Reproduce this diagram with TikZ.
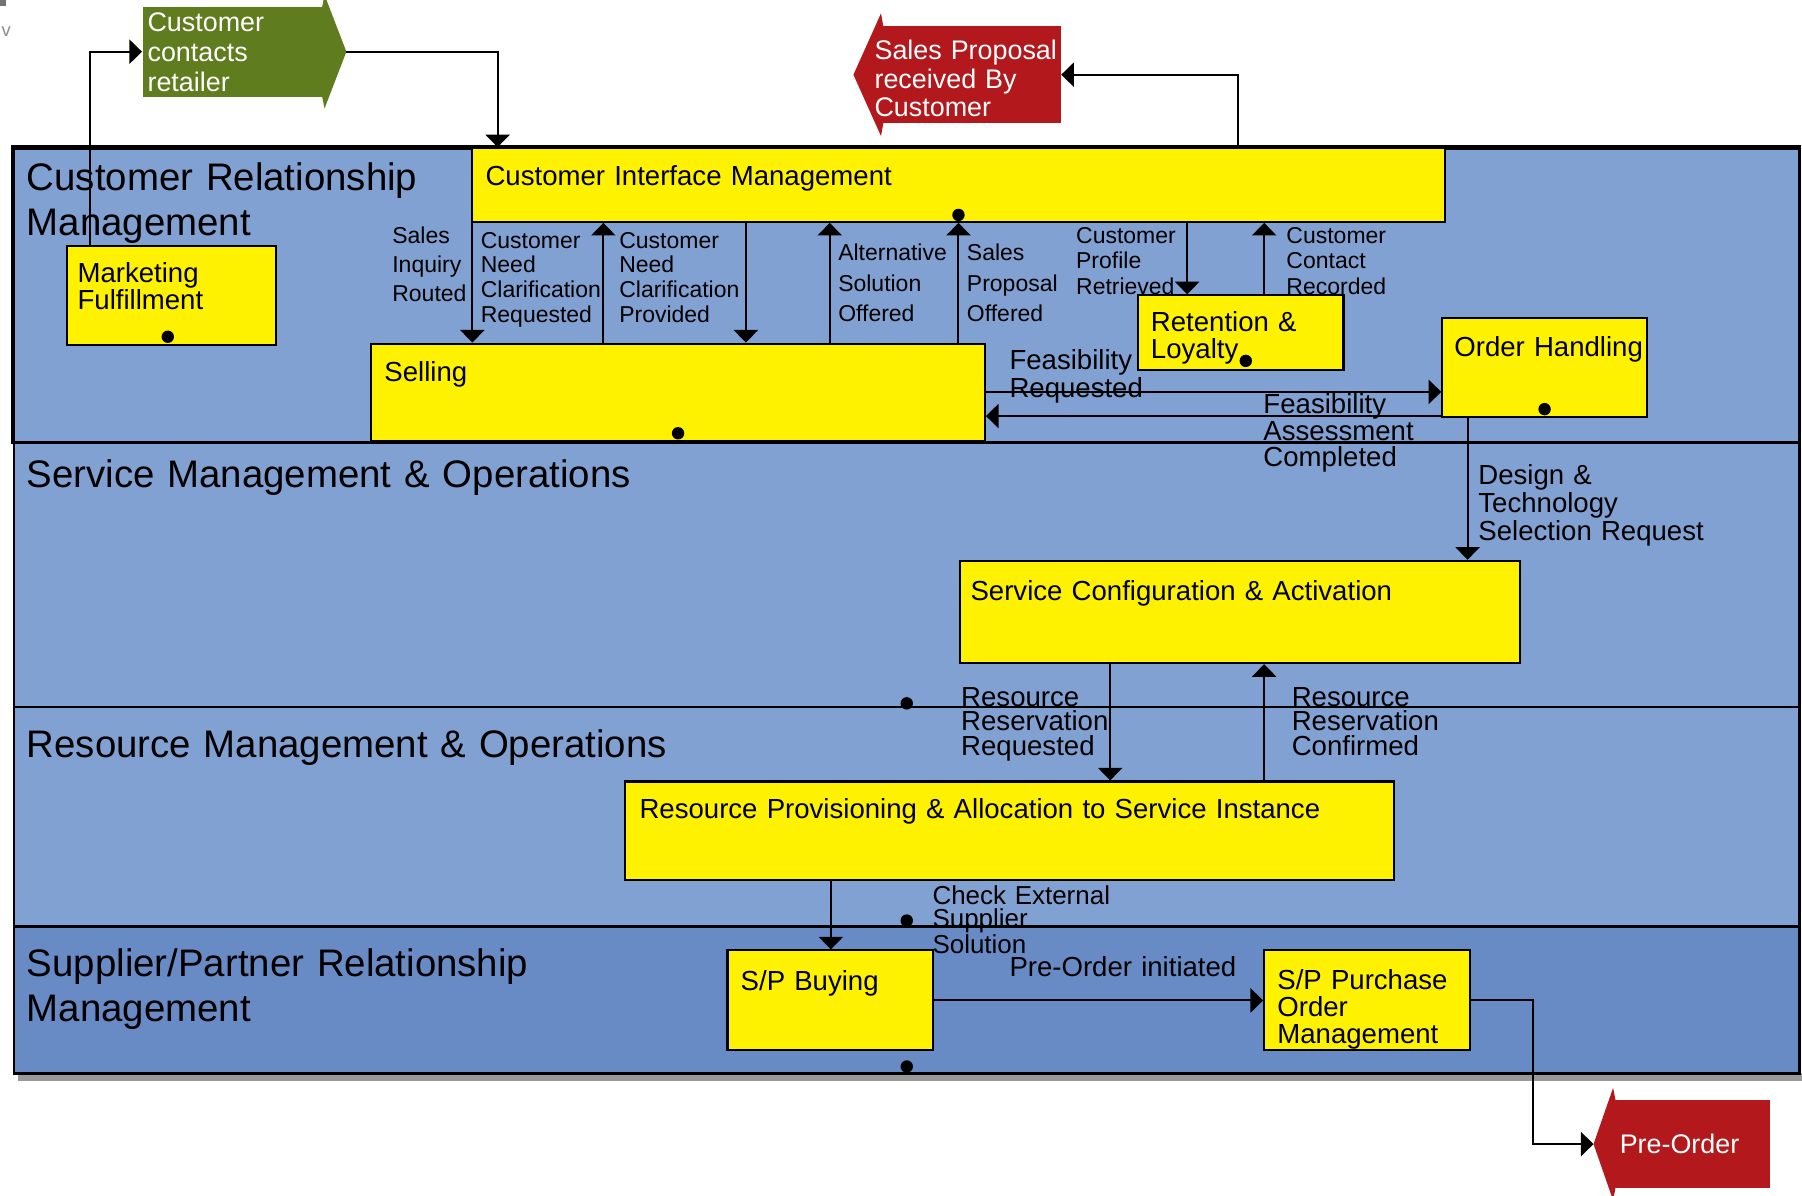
\documentclass[tikz,border=0pt]{standalone}
\usepackage{fontspec}
\setmainfont{Liberation Sans}
\usetikzlibrary{arrows.meta,fit}

\definecolor{lanelt}{RGB}{129,161,210}
\definecolor{lanedk}{RGB}{104,139,198}
\definecolor{evgreen}{RGB}{95,124,30}
\definecolor{evred}{RGB}{178,24,28}

\tikzset{
  lane/.style={draw=black, line width=1.1pt, fill=lanelt, inner sep=0pt},
  procbox/.style={draw=black, line width=0.9pt, fill=yellow, inner sep=0pt},
  evbody/.style={inner sep=0pt},
  txt/.style={anchor=base west, align=left, inner sep=0pt, text width=#1},
  lanetxt/.style={txt=10cm, font=\fontsize{16.7}{19.5}\selectfont},
  boxtxt/.style={txt=14cm, font=\fontsize{12}{11.8}\selectfont},
  evtxt/.style={txt=4cm, text=white, font=\fontsize{11.7}{#1}\selectfont},
  sml/.style={txt=3cm, font=\fontsize{10}{#1}\selectfont},
  med/.style={txt=5cm, font=\fontsize{12}{#1}\selectfont},
  flow/.style={-{Triangle[width=10.5pt,length=5.5pt]}, line width=0.85pt}
}

\begin{document}
\begin{tikzpicture}[x=0.5pt, y=-0.5pt]
  \useasboundingbox (0,0) rectangle (1568,1040);

  % lanes
  \fill[black!40] (16,934) rectangle (1568,941);
  \node[lane, fit={(12,129)(1566,385)}] (crm) {};
  \node[lane, fit={(12,385)(1566,615)}] (smo) {};
  \node[lane, fit={(12,615)(1566,806)}] (rmo) {};
  \node[lane, fill=lanedk, fit={(12,806)(1566,934)}] (sprm) {};
  \draw[line width=1.6pt] (crm.south west) |- (crm.north east);

  \node[lanetxt] (t-crm) at (23,166) {Customer Relationship\\Management};
  \node[lanetxt] (t-smo) at (23,424) {Service Management \& Operations};
  \node[lanetxt] (t-rmo) at (23,659) {Resource Management \& Operations};
  \node[lanetxt] (t-sprm) at (23,850) {Supplier/Partner Relationship\\Management};

  % process boxes
  \node[procbox, fit={(411,129)(1257,193)}] (cim) {};
  \node[procbox, fit={(58,214)(240,300)}] (mf) {};
  \node[procbox, fit={(323,299)(857,384)}] (sell) {};
  \node[procbox, fit={(990,257)(1169,322)}] (ret) {};
  \node[procbox, fit={(1255,277)(1433,363)}] (oh) {};
  \node[procbox, fit={(835,488)(1323,577)}] (sca) {};
  \node[procbox, fit={(544,680)(1213,766)}] (rpa) {};
  \node[procbox, fit={(633,827)(812,914)}] (spb) {};
  \node[procbox, fit={(1100,827)(1279,914)}] (sppo) {};

  \node[boxtxt] (x-cim) at ([shift={(6pt,-16.5pt)}]cim.north west) {Customer Interface Management};
  \node[boxtxt] (x-mf) at ([shift={(5pt,-16.5pt)}]mf.north west) {Marketing\\Fulfillment};
  \node[boxtxt] (x-sell) at ([shift={(6pt,-17pt)}]sell.north west) {Selling};
  \node[boxtxt] (x-ret) at ([shift={(6pt,-16pt)}]ret.north west) {Retention \&\\Loyalty};
  \node[boxtxt] (x-oh) at ([shift={(5.5pt,-17pt)}]oh.north west) {Order Handling};
  \node[boxtxt] (x-sca) at ([shift={(5pt,-17.5pt)}]sca.north west) {Service Configuration \& Activation};
  \node[boxtxt] (x-rpa) at ([shift={(6.5pt,-16.5pt)}]rpa.north west) {Resource Provisioning \& Allocation to Service Instance};
  \node[boxtxt] (x-spb) at ([shift={(6pt,-18pt)}]spb.north west) {S/P Buying};
  \node[boxtxt] (x-sppo) at ([shift={(6pt,-17.5pt)}]sppo.north west) {S/P Purchase\\Order\\Management};

  % events
  \node[evbody, fill=evgreen, fit={(124,6)(282,84)}] (contact) {};
  \fill[evgreen] ([xshift=-1pt]contact.north east) -- ([yshift=5pt]contact.north east)
    -- ([xshift=9.5pt]contact.east) -- ([yshift=-5pt]contact.south east)
    -- ([xshift=-1pt]contact.south east) -- cycle;
  \coordinate (contact tip) at ([xshift=9.5pt]contact.east);
  \node[evbody, fill=evred, fit={(767,23)(923,107)}] (propo) {};
  \fill[evred] ([xshift=1pt]propo.north west) -- ([yshift=5.5pt]propo.north west)
    -- ([xshift=-12pt]propo.west) -- ([yshift=-5.5pt]propo.south west)
    -- ([xshift=1pt]propo.south west) -- cycle;
  \node[evbody, fill=evred, fit={(1404,957)(1540,1034)}] (preord) {};
  \fill[evred] ([xshift=1pt]preord.north west) -- ([yshift=5pt]preord.north west)
    -- ([xshift=-8.5pt]preord.west) -- ([yshift=-5pt]preord.south west)
    -- ([xshift=1pt]preord.south west) -- cycle;
  \coordinate (preord tip) at ([xshift=-8.5pt]preord.west);

  \node[evtxt=13] (x-contact) at (128,27.6) {Customer\\contacts\\retailer};
  \node[evtxt=12.3] (x-propo) at (760.6,52) {Sales Proposal\\received By\\Customer};
  \node[evtxt=12] (x-preord) at (1409,1003.6) {Pre-Order};

  % flows
  \path[flow]
    (cim.south -| 411,0) edge (sell.north -| 411,0)
    (sell.north -| 525,0) edge (cim.south -| 525,0)
    (cim.south -| 649,0) edge (sell.north -| 649,0)
    (sell.north -| 722,0) edge (cim.south -| 722,0)
    (sell.north -| 834,0) edge (cim.south -| 834,0)
    (cim.south -| 1033,0) edge (ret.north -| 1033,0)
    (ret.north -| 1100,0) edge (cim.south -| 1100,0)
    (sell.east |- 0,341) edge (oh.west |- 0,341)
    (oh.west |- 0,362) edge (sell.east |- 0,362)
    (oh.south -| 1277,0) edge (sca.north -| 1277,0)
    (sca.south -| 966,0) edge (rpa.north -| 966,0)
    (rpa.north -| 1100,0) edge (sca.south -| 1100,0)
    (rpa.south -| 723,0) edge (spb.north -| 723,0)
    (spb.east) edge (sppo.west);
  \draw[flow] (mf.north -| 78,0) |- (contact.west);
  \draw[flow] (contact tip) -| (cim.north -| 433,0);
  \draw[flow] (cim.north -| 1077,0) |- (propo.east);
  \draw[flow] (sppo.east) -- ++(27pt,0) |- (preord tip);

  \foreach \x/\y in {146/293, 834/187, 590/377, 1084/314, 1344/356, 789/612, 789/801, 789/928}
    \fill (\x,\y) circle (2.7pt);

  % flow labels
  \node[sml=12.5] (l-inq) at (341,212) {Sales\\Inquiry\\Routed};
  \node[sml=10.7] (l-ncr) at (418,216) {Customer\\Need\\Clarification\\Requested};
  \node[sml=10.7] (l-ncp) at (538.5,216) {Customer\\Need\\Clarification\\Provided};
  \node[sml=13.2] (l-alt) at (729,227) {Alternative\\Solution\\Offered};
  \node[sml=13.2] (l-spo) at (841,227) {Sales\\Proposal\\Offered};
  \node[sml=11] (l-prof) at (936,212) {Customer\\Profile\\Retrieved};
  \node[sml=11] (l-rec) at (1119,212) {Customer\\Contact\\Recorded};
  \node[med=10.5] (l-freq) at (878,321.6) {Feasibility\\Requested};
  \node[med=11.5] (l-fdone) at (1099,360) {Feasibility\\Assessment\\Completed};
  \node[med=12] (l-dts) at (1286,422) {Design \&\\Technology\\Selection Request};
  \node[med=10.6] (l-rrr) at (836,614.6) {Resource\\Reservation\\Requested};
  \node[med=10.6] (l-rrc) at (1123.6,614.6) {Resource\\Reservation\\Confirmed};
  \node[med=10, font=\fontsize{11.3}{10}\selectfont] (l-ces) at (811,787) {Check External\\Supplier\\Solution};
  \node[med=10] (l-poi) at (878,850) {Pre-Order initiated};

  \fill[black!55] (0,0) rectangle (5,5);
  \node[anchor=base west, inner sep=0pt, text=black!45, font=\fontsize{8}{8}\selectfont] (v) at (1,32) {v};
\end{tikzpicture}
\end{document}
